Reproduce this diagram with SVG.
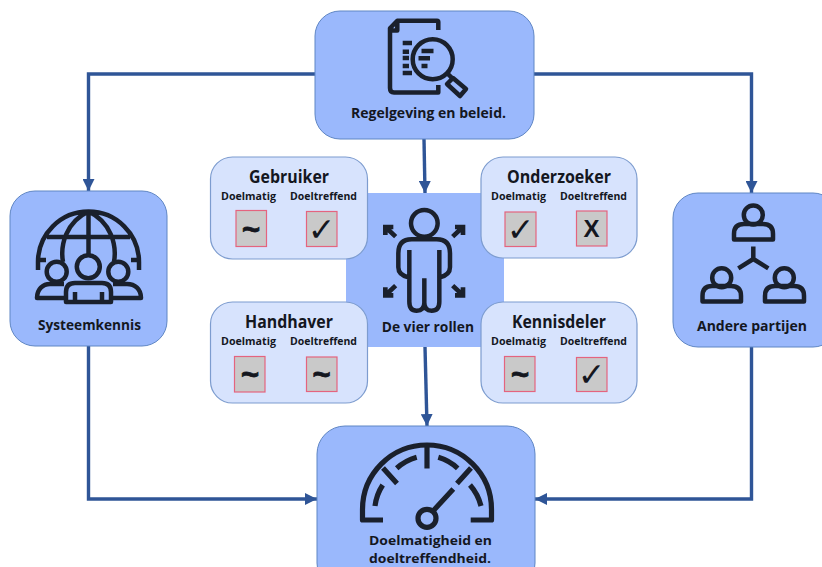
<svg xmlns="http://www.w3.org/2000/svg" width="822" height="567" viewBox="0 0 822 567">
<style>
.node{fill:#9ab8fc;stroke:#5f86c4;stroke-width:1}
.sq{fill:#9ab8fc}
.role{fill:#d7e3fd;stroke:#7d9ccf;stroke-width:1.2}
.cell{fill:#c9c9c9;stroke:#e4647f;stroke-width:1.2}
.conn{fill:none;stroke:#2f5597;stroke-width:3.4}
.ic{fill:none;stroke:#1a202c;stroke-width:4.5;stroke-linecap:butt;stroke-linejoin:round}
.icf{fill:#9ab8fc;stroke:#1a202c;stroke-width:4.5;stroke-linejoin:round}
.g5{stroke-width:5.2}
.p1{stroke-width:13.5}
.p2{stroke-width:14;stroke-linejoin:miter}
text{font-family:"Open Sans","Noto Sans","Liberation Sans",sans-serif;font-weight:700;fill:#14171f}
.lbl{font-size:14px}
.lb2{font-size:13px}
.ttl{font-size:17px}
.sm{font-size:11px}
.chk{font-family:"DejaVu Sans",sans-serif;text-anchor:middle;font-size:33px;font-weight:400}
.tld{font-family:"Liberation Sans",sans-serif;text-anchor:middle;font-size:31px;stroke:#14171f;stroke-width:.8}
.xx{font-family:"Liberation Sans",sans-serif;text-anchor:middle;font-size:24px}
</style>
<defs>
<marker id="ah" viewBox="0 0 10 10" refX="10" refY="5" markerWidth="12" markerHeight="12" markerUnits="userSpaceOnUse" orient="auto"><path d="M0 0L10 5L0 10Z" fill="#2f5597"/></marker>
</defs>
<g id="connectors">
<path class="conn" marker-end="url(#ah)" d="M315 74H88.500V191"/>
<path class="conn" marker-end="url(#ah)" d="M534 74H751.500V193"/>
<path class="conn" marker-end="url(#ah)" d="M424 139L425 193"/>
<path class="conn" marker-end="url(#ah)" d="M88.500 346V499H317"/>
<path class="conn" marker-end="url(#ah)" d="M751.500 347V499H535"/>
<path class="conn" marker-end="url(#ah)" d="M425 347L427 426"/>
</g>
<g id="regelgeving">
<rect class="node" x="315" y="11" width="219" height="128" rx="25"/>
<path class="ic" d="M438.300 30V22Q438.300 20.700 437 20.700H397.300L390 28.300V88Q390 92.500 394 92.500H438.300V85M397.300 20.700V30.500H390"/>
<circle class="ic" cx="432.700" cy="59.300" r="20"/>
<path class="ic" d="M402.700 43H412M402.700 51.700H409M402.700 58H409M402.700 66H409M402.700 73H412M421.500 51H433.500M418.500 58.300H430M421.500 66H427.500M448 74L453 79"/>
<path class="ic" d="M453 78L447 84L460 96L466 89Z"/>
<text class="lbl" x="351" y="118" textLength="155" lengthAdjust="spacingAndGlyphs">Regelgeving en beleid.</text>
</g>
<g id="systeemkennis">
<rect class="node" x="10" y="191" width="157" height="155" rx="25"/>
<path class="ic" d="M38 270V262A50.500 50.500 0 0 1 139 262V270M88.500 211.500V258M47 237H130M38 260H46M131 260H139M88.500 211.500C66 222 60 245 63 262M88.500 211.500C111 222 117 245 114 262"/>
<circle class="icf" cx="56.700" cy="271.700" r="10"/>
<circle class="icf" cx="118.300" cy="271.700" r="10"/>
<path class="icf" d="M66 298H37C37 289 43 284 50 284H64M111 298H141C141 289 135 284 127 284H113"/>
<circle class="icf" cx="88.300" cy="266.700" r="11.500"/>
<path class="icf" d="M66 302V292Q66 283 75 283H102Q111 283 111 292V302Z"/>
<path class="ic" d="M75 292V302M102 292V302"/>
<text class="lbl" x="38" y="330" textLength="103" lengthAdjust="spacingAndGlyphs">Systeemkennis</text>
</g>
<g id="andere-partijen">
<rect class="node" x="673" y="193" width="165" height="154" rx="25"/>
<circle class="ic" cx="753.300" cy="215" r="9.500"/>
<path class="ic" d="M734 239.500V234Q734 224 744 224H763Q773 224 773 234V239.500Z"/>
<circle class="ic" cx="721.700" cy="277.700" r="9.500"/>
<path class="ic" d="M702.500 301.500V296Q702.500 286 712 286H731Q741 286 741 296V301.500Z"/>
<circle class="ic" cx="784.300" cy="277.700" r="9.500"/>
<path class="ic" d="M765 301.500V296Q765 286 775 286H794Q804 286 804 296V301.500Z"/>
<path class="ic" d="M753.300 246.500V259L738.300 268.300M753.300 259L768.300 268.300"/>
<text class="lbl" x="697" y="331" textLength="110" lengthAdjust="spacingAndGlyphs">Andere partijen</text>
</g>
<g id="doelmatigheid">
<rect class="node" x="317" y="426" width="218" height="165" rx="28"/>
<path class="ic g5" stroke-linejoin="miter" d="M383 520H362.500V509.500A64.500 64.500 0 0 1 491.500 509.500V520H470.700"/>
<path class="ic g5" d="M427 445V468.500M383 468L397 483.500M471 468L457 483.500M396.700 468.300A50 50 0 0 1 416.700 457.300M438.300 457.300A50 50 0 0 1 457.700 468.300M382.700 485A50 50 0 0 0 375 506M470 485A50 50 0 0 1 481 506M433.300 510.700L453.300 489"/>
<circle class="ic g5" cx="427" cy="518.300" r="9"/>
<text class="lb2" x="369" y="545" textLength="123" lengthAdjust="spacingAndGlyphs">Doelmatigheid en</text>
<text class="lb2" x="369" y="563" textLength="122" lengthAdjust="spacingAndGlyphs">doeltreffendheid.</text>
</g>
<g id="de-vier-rollen">
<rect class="sq" x="346" y="193" width="158" height="154"/>
<g transform="translate(345 190) scale(.3333)">
<circle class="ic p1" cx="238" cy="100" r="40"/>
<path class="ic p1" d="M190 262Q160 255 160 232V190Q160 148 200 148H275Q315 148 315 190V232Q315 255 285 262M193 180V335Q193 362 215 362Q238 362 238 338V265M238 338Q238 362 260 362Q283 362 283 335V180"/>
<path class="ic p2" d="M121 135V111H145M122 112L152 140M354 135V111H330M353 112L323 140M121 292V316H145M122 315L152 287M354 292V316H330M353 315L323 287"/>
</g>
<text class="lbl" x="381.700" y="332" textLength="92.300" lengthAdjust="spacingAndGlyphs">De vier rollen</text>
</g>
<g id="gebruiker">
<rect class="role" x="210.500" y="157" width="157" height="102" rx="22"/>
<text class="ttl" x="249" y="183" textLength="80" lengthAdjust="spacingAndGlyphs">Gebruiker</text>
<text class="sm" x="221" y="200" textLength="55" lengthAdjust="spacingAndGlyphs">Doelmatig</text>
<text class="sm" x="290" y="200" textLength="67" lengthAdjust="spacingAndGlyphs">Doeltreffend</text>
<rect class="cell" x="236" y="210.500" width="30.500" height="36"/>
<rect class="cell" x="306.500" y="211.500" width="30.500" height="35"/>
<text class="tld" x="251" y="240">~</text>
<text class="chk" x="321.500" y="241">✓</text>
</g>
<g id="onderzoeker">
<rect class="role" x="481" y="157" width="156" height="101" rx="22"/>
<text class="ttl" x="507" y="183" textLength="104" lengthAdjust="spacingAndGlyphs">Onderzoeker</text>
<text class="sm" x="491" y="200" textLength="55" lengthAdjust="spacingAndGlyphs">Doelmatig</text>
<text class="sm" x="560" y="200" textLength="67" lengthAdjust="spacingAndGlyphs">Doeltreffend</text>
<rect class="cell" x="505" y="212" width="31" height="34.500"/>
<rect class="cell" x="576.500" y="211" width="30.500" height="35"/>
<text class="chk" x="520.500" y="241">✓</text>
<text class="xx" x="591.500" y="237">X</text>
</g>
<g id="handhaver">
<rect class="role" x="210.500" y="302" width="157" height="101" rx="22"/>
<text class="ttl" x="245" y="328" textLength="88" lengthAdjust="spacingAndGlyphs">Handhaver</text>
<text class="sm" x="221" y="345" textLength="55" lengthAdjust="spacingAndGlyphs">Doelmatig</text>
<text class="sm" x="290" y="345" textLength="67" lengthAdjust="spacingAndGlyphs">Doeltreffend</text>
<rect class="cell" x="234.500" y="356.500" width="30.500" height="35.500"/>
<rect class="cell" x="306.500" y="357" width="30.500" height="34.500"/>
<text class="tld" x="250" y="385">~</text>
<text class="tld" x="321.500" y="385">~</text>
</g>
<g id="kennisdeler">
<rect class="role" x="481" y="302" width="156" height="101" rx="22"/>
<text class="ttl" x="512" y="328" textLength="94" lengthAdjust="spacingAndGlyphs">Kennisdeler</text>
<text class="sm" x="491" y="345" textLength="55" lengthAdjust="spacingAndGlyphs">Doelmatig</text>
<text class="sm" x="560" y="345" textLength="67" lengthAdjust="spacingAndGlyphs">Doeltreffend</text>
<rect class="cell" x="504.500" y="356.500" width="30.500" height="35"/>
<rect class="cell" x="576.500" y="357.500" width="30.500" height="34"/>
<text class="tld" x="520" y="385">~</text>
<text class="chk" x="591.500" y="386">✓</text>
</g>
</svg>
